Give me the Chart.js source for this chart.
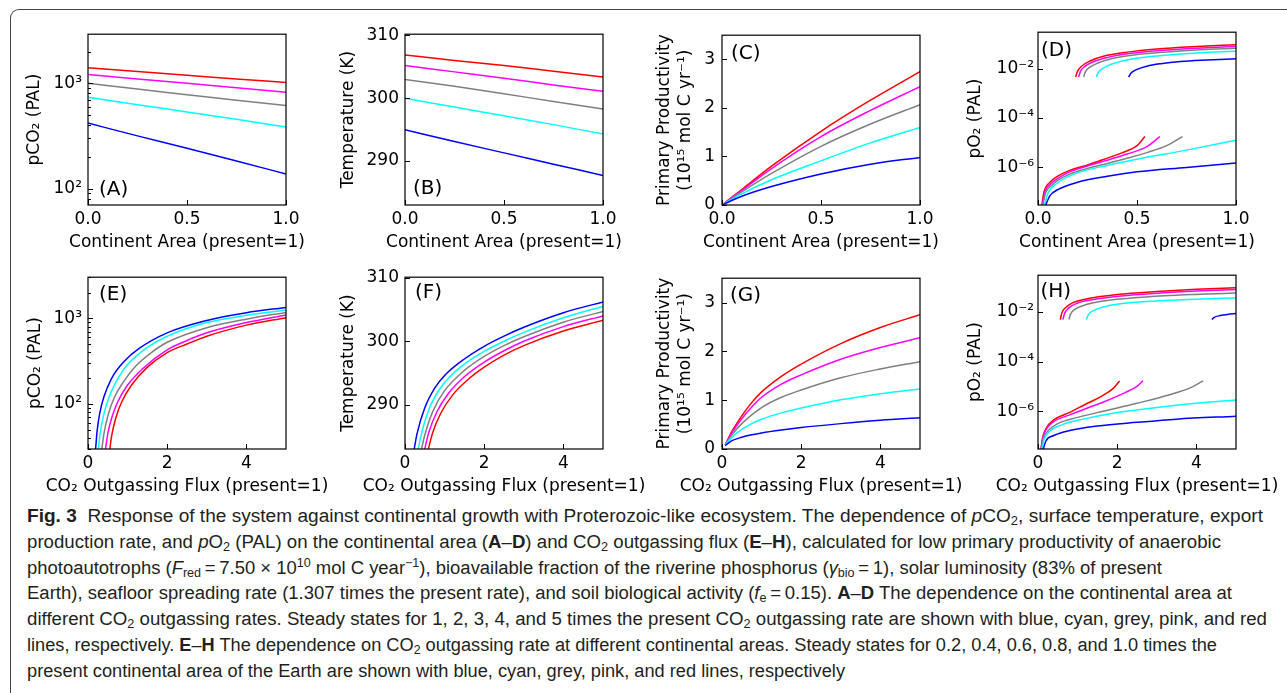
<!DOCTYPE html>
<html>
<head>
<meta charset="utf-8">
<script src="https://cdn.jsdelivr.net/npm/chart.js@4.4.1/dist/chart.umd.min.js"></script>
<style>
  html, body { margin: 0; padding: 0; background: #fff; }
  #page { position: relative; width: 1287px; height: 693px; overflow: hidden; background: #fff; }
  #frame { position: absolute; left: 10px; top: 9px; width: 1400px; height: 800px;
           border-left: 1.3px solid #444; border-top: 1.3px solid #444; border-top-left-radius: 9px; }
  canvas { position: absolute; }
  .cap { position: absolute; left: 27px; white-space: nowrap; font-family: "Liberation Sans Narrow", "Liberation Sans", sans-serif;
         font-size: 18px; line-height: 26px; height: 26px; color: #231f20; transform-origin: 0 50%; }
  .cap sub { font-size: 68%; vertical-align: -0.28em; line-height: 0; }
  .cap sup { font-size: 68%; vertical-align: 0.55em; line-height: 0; }
</style>
</head>
<body>
<div id="page">
  <div id="frame"></div>
  <div class="cap" data-w="1236"><b>Fig. 3</b>&nbsp;&nbsp;Response of the system against continental growth with Proterozoic-like ecosystem. The dependence of <i>p</i>CO<sub>2</sub>, surface temperature, export</div>
  <div class="cap" data-w="1194">production rate, and <i>p</i>O<sub>2</sub> (PAL) on the continental area (<b>A</b>–<b>D</b>) and CO<sub>2</sub> outgassing flux (<b>E</b>–<b>H</b>), calculated for low primary productivity of anaerobic</div>
  <div class="cap" data-w="1135">photoautotrophs (<i>F</i><sub>red</sub>&thinsp;=&thinsp;7.50 × 10<sup>10</sup> mol C year<sup>−1</sup>), bioavailable fraction of the riverine phosphorus (<i>γ</i><sub>bio</sub>&thinsp;=&thinsp;1), solar luminosity (83% of present</div>
  <div class="cap" data-w="1205">Earth), seafloor spreading rate (1.307 times the present rate), and soil biological activity (<i>f</i><sub>e</sub>&thinsp;=&thinsp;0.15). <b>A</b>–<b>D</b> The dependence on the continental area at</div>
  <div class="cap" data-w="1240">different CO<sub>2</sub> outgassing rates. Steady states for 1, 2, 3, 4, and 5 times the present CO<sub>2</sub> outgassing rate are shown with blue, cyan, grey, pink, and red</div>
  <div class="cap" data-w="1190">lines, respectively. <b>E</b>–<b>H</b> The dependence on CO<sub>2</sub> outgassing rate at different continental areas. Steady states for 0.2, 0.4, 0.6, 0.8, and 1.0 times the</div>
  <div class="cap" data-w="818">present continental area of the Earth are shown with blue, cyan, grey, pink, and red lines, respectively</div>
</div>
<script>
// curve colours: blue, cyan, grey, pink, red
const lineColors = ['#0000ff', '#00ffff', '#808080', '#ff00ff', '#ff0000'];

// (A)-(C) against continent area, one curve per outgassing rate (1x..5x)
const areaX = [0, 0.25, 0.5, 0.75, 1.0];
const pco2VsArea = [
  [419, 317, 242, 183, 138],
  [735, 625, 535, 455, 384],
  [1000, 880, 780, 690, 614],
  [1214, 1100, 1000, 905, 823],
  [1404, 1290, 1190, 1100, 1015]
];
const tempVsArea = [
  [295.0, 293.1, 291.3, 289.5, 287.7],
  [300.0, 298.6, 297.2, 295.8, 294.3],
  [303.0, 301.9, 300.7, 299.5, 298.3],
  [305.2, 304.2, 303.2, 302.1, 301.1],
  [306.9, 306.0, 305.2, 304.3, 303.4]
];
const areaXProd = [0, 0.1, 0.25, 0.5, 0.75, 1.0];
const prodVsArea = [
  [0, 0.18, 0.38, 0.64, 0.84, 0.98],
  [0, 0.23, 0.52, 0.91, 1.28, 1.60],
  [0, 0.27, 0.65, 1.21, 1.67, 2.07],
  [0, 0.30, 0.75, 1.41, 1.95, 2.44],
  [0, 0.32, 0.80, 1.52, 2.16, 2.75]
];
const dLowX = [
  [0.035, 0.06, 0.1, 0.2, 0.35, 0.5, 0.75, 1.0],
  [0.03, 0.05, 0.1, 0.2, 0.35, 0.5, 0.75, 1.0],
  [0.022, 0.04, 0.07, 0.1, 0.16, 0.25, 0.35, 0.45, 0.55, 0.65, 0.73],
  [0.02, 0.035, 0.065, 0.1, 0.16, 0.25, 0.35, 0.45, 0.55, 0.615],
  [0.018, 0.03, 0.06, 0.1, 0.16, 0.25, 0.33, 0.42, 0.5, 0.54]
];
const dLowExp = [
  [-7.6, -7.15, -6.9, -6.6, -6.36, -6.18, -6.0, -5.82],
  [-7.6, -7.05, -6.62, -6.22, -5.92, -5.67, -5.3, -4.9],
  [-7.6, -7.0, -6.72, -6.52, -6.27, -6.04, -5.84, -5.63, -5.4, -5.12, -4.75],
  [-7.6, -7.0, -6.66, -6.44, -6.18, -5.94, -5.71, -5.46, -5.16, -4.75],
  [-7.6, -7.0, -6.6, -6.35, -6.12, -5.9, -5.68, -5.42, -5.12, -4.75]
];
const dUpX = [
  [0.458, 0.47, 0.5, 0.55, 0.62, 0.72, 0.85, 1.0],
  [0.295, 0.305, 0.33, 0.37, 0.45, 0.58, 0.72, 0.86, 1.0],
  [0.23, 0.24, 0.26, 0.3, 0.37, 0.5, 0.65, 0.82, 1.0],
  [0.205, 0.215, 0.235, 0.28, 0.35, 0.47, 0.62, 0.8, 1.0],
  [0.19, 0.2, 0.22, 0.26, 0.33, 0.45, 0.6, 0.8, 1.0]
];
const dUpExp = [
  [-2.34, -2.18, -2.03, -1.9, -1.8, -1.71, -1.65, -1.60],
  [-2.34, -2.15, -1.98, -1.82, -1.65, -1.5, -1.41, -1.34, -1.29],
  [-2.34, -2.12, -1.95, -1.78, -1.6, -1.43, -1.32, -1.23, -1.17],
  [-2.34, -2.1, -1.92, -1.72, -1.55, -1.38, -1.26, -1.17, -1.10],
  [-2.34, -2.1, -1.9, -1.7, -1.5, -1.33, -1.2, -1.1, -1.03]
];

// (E)-(H) against CO2 outgassing, one curve per continent area (0.2..1.0)
const eX = [
  [0.18, 0.23, 0.3, 0.4, 0.6, 0.9, 1.3, 2, 3, 4, 5],
  [0.25, 0.3, 0.4, 0.55, 0.8, 1.0, 1.5, 2, 3, 4, 5],
  [0.33, 0.4, 0.5, 0.65, 0.9, 1.2, 1.6, 2, 3, 4, 5],
  [0.42, 0.5, 0.6, 0.75, 1.0, 1.4, 2, 2.5, 3, 4, 5],
  [0.53, 0.6, 0.7, 0.85, 1.1, 1.5, 2, 2.5, 3, 4, 5]
];
const pco2VsFlux = [
  [25, 48, 79, 120, 200, 309, 447, 676, 944, 1161, 1340],
  [25, 43, 76, 126, 214, 288, 457, 617, 891, 1084, 1250],
  [25, 44, 72, 115, 182, 275, 398, 525, 776, 977, 1172],
  [25, 45, 69, 105, 166, 263, 427, 550, 676, 891, 1094],
  [25, 43, 68, 105, 166, 269, 398, 501, 617, 832, 1018]
];
const fX = [
  [0.22, 0.3, 0.5, 0.75, 1.0, 1.5, 2, 2.5, 3, 4, 5],
  [0.32, 0.4, 0.6, 0.85, 1.1, 1.5, 2, 2.5, 3, 4, 5],
  [0.40, 0.5, 0.7, 1.0, 1.5, 2, 2.5, 3, 4, 5],
  [0.48, 0.6, 0.8, 1.1, 1.5, 2, 2.5, 3, 4, 5],
  [0.57, 0.7, 0.9, 1.2, 1.6, 2, 2.5, 3, 4, 5]
];
const tempVsFlux = [
  [282.5, 285.3, 289.5, 292.6, 294.6, 297.2, 299.2, 300.8, 302.2, 304.5, 306.2],
  [282.5, 285.0, 289.2, 292.2, 294.2, 296.4, 298.4, 300.0, 301.4, 303.7, 305.5],
  [282.5, 285.2, 288.9, 292.2, 295.4, 297.6, 299.3, 300.7, 303.0, 304.7],
  [282.5, 285.6, 288.8, 291.8, 294.4, 296.7, 298.5, 300.0, 302.3, 304.0],
  [282.5, 285.6, 288.6, 291.5, 294.0, 295.9, 297.8, 299.3, 301.6, 303.3]
];
const gX = [0.08, 0.25, 0.5, 0.75, 1, 1.5, 2, 3, 4, 5];
const prodVsFlux = [
  [0.07, 0.17, 0.24, 0.29, 0.33, 0.39, 0.44, 0.52, 0.59, 0.64],
  [0.08, 0.24, 0.40, 0.52, 0.61, 0.74, 0.84, 1.01, 1.13, 1.23],
  [0.08, 0.29, 0.52, 0.70, 0.85, 1.06, 1.21, 1.46, 1.64, 1.79],
  [0.08, 0.33, 0.62, 0.86, 1.06, 1.33, 1.52, 1.84, 2.08, 2.28],
  [0.08, 0.36, 0.68, 0.95, 1.17, 1.49, 1.74, 2.16, 2.49, 2.75]
];
const hLowX = [
  [0.12, 0.2, 0.4, 0.8, 1.5, 2.5, 3.5, 5.0],
  [0.09, 0.15, 0.3, 0.6, 1.2, 2.0, 3.0, 4.0, 5.0],
  [0.08, 0.14, 0.25, 0.5, 1.0, 1.7, 2.5, 3.3, 3.9, 4.17],
  [0.07, 0.12, 0.2, 0.4, 0.8, 1.2, 1.7, 2.2, 2.5, 2.65],
  [0.07, 0.12, 0.2, 0.4, 0.8, 1.2, 1.6, 1.9, 2.06]
];
const hLowExp = [
  [-7.6, -7.2, -6.98, -6.78, -6.6, -6.45, -6.32, -6.2],
  [-7.6, -7.15, -6.8, -6.55, -6.3, -6.05, -5.85, -5.68, -5.55],
  [-7.6, -7.1, -6.8, -6.5, -6.25, -5.98, -5.68, -5.35, -5.02, -4.78],
  [-7.6, -7.1, -6.75, -6.42, -6.15, -5.9, -5.6, -5.25, -5.0, -4.78],
  [-7.6, -7.05, -6.7, -6.35, -6.05, -5.72, -5.4, -5.08, -4.78]
];
const hUpX = [
  [4.39, 4.45, 4.6, 4.8, 5.0],
  [1.22, 1.27, 1.4, 1.7, 2.2, 3.0, 4.0, 5.0],
  [0.78, 0.82, 0.93, 1.15, 1.6, 2.3, 3.2, 4.1, 5.0],
  [0.63, 0.67, 0.77, 0.97, 1.4, 2.1, 3.0, 4.0, 5.0],
  [0.565, 0.6, 0.7, 0.9, 1.3, 2.0, 3.0, 4.0, 5.0]
];
const hUpExp = [
  [-2.31, -2.22, -2.15, -2.1, -2.07],
  [-2.31, -2.12, -1.95, -1.78, -1.65, -1.56, -1.49, -1.44],
  [-2.31, -2.1, -1.9, -1.74, -1.57, -1.45, -1.35, -1.29, -1.24],
  [-2.31, -2.07, -1.85, -1.66, -1.5, -1.36, -1.25, -1.16, -1.10],
  [-2.31, -2.05, -1.82, -1.62, -1.45, -1.3, -1.18, -1.09, -1.03]
];

// ticks
const areaTicks = [0, 0.5, 1.0], areaTickLabels = ['0.0', '0.5', '1.0'];
const fluxTicks = [0, 2, 4], fluxTickLabels = ['0', '2', '4'];
const tempTicks = [290, 300, 310], tempTickLabels = ['290', '300', '310'];
const prodTicks = [0, 1, 2, 3], prodTickLabels = ['0', '1', '2', '3'];
const pco2Major = [100, 1000], pco2MajorLabels = ['10²', '10³'];
const pco2MinorA = [80, 90, 200, 300, 400, 500, 600, 700, 800, 900, 2000];
const pco2MinorE = [30, 40, 50, 60, 70, 80, 90, 200, 300, 400, 500, 600, 700, 800, 900, 2000, 3000];
const po2Major = [1e-6, 1e-4, 1e-2], po2MajorLabels = ['10⁻⁶', '10⁻⁴', '10⁻²'];

const FONT = { family: 'DejaVu Sans', size: 17 };
const PW = 198, WY = 90, PR = 56, PT = 14, HX = 52;

function tickList(vals, labels, minors) {
  const t = vals.map((v, i) => ({ value: v, text: labels[i] }));
  (minors || []).forEach(v => t.push({ value: v, text: '', minor: true }));
  return t.sort((a, b) => a.value - b.value);
}
function xy(xs, ys) { return xs.map((x, i) => ({ x: x, y: ys[i] })); }
function pow10(ys) { return ys.map(v => Math.pow(10, v)); }
function curves(xsList, ysList) {
  return ysList.map((ys, i) => ({
    data: xy(Array.isArray(xsList[0]) ? xsList[i] : xsList, ys),
    borderColor: lineColors[i]
  }));
}

// box, inward ticks, panel letter and x-axis title (drawn here so it is not squeezed to the plot width)
const frameAndTicks = {
  id: 'frameAndTicks',
  afterDatasetsDraw(chart) {
    const { ctx, chartArea: a, scales } = chart;
    const p = chart.options.plugins.frameAndTicks;
    ctx.save();
    ctx.strokeStyle = '#000';
    ctx.lineWidth = 1.2;
    ctx.strokeRect(a.left, a.top, a.right - a.left, a.bottom - a.top);
    ctx.beginPath();
    scales.x.ticks.forEach(t => {
      const px = Math.round(scales.x.getPixelForValue(t.value)) + 0.5;
      ctx.moveTo(px, a.bottom); ctx.lineTo(px, a.bottom - (t.minor ? 3 : 5));
    });
    scales.y.ticks.forEach(t => {
      const py = Math.round(scales.y.getPixelForValue(t.value)) + 0.5;
      ctx.moveTo(a.left, py); ctx.lineTo(a.left + (t.minor ? 3 : 5), py);
    });
    ctx.lineWidth = 1;
    ctx.stroke();
    ctx.fillStyle = '#000';
    ctx.textBaseline = 'middle';
    ctx.font = '20px "DejaVu Sans"';
    ctx.fillText(p.label, a.left + p.lx, p.bottom ? a.bottom - p.ly : a.top + p.ly);
    ctx.font = '17px "DejaVu Sans"';
    ctx.textAlign = 'center';
    ctx.fillText(p.xTitle, (a.left + a.right) / 2, a.bottom + 38);
    ctx.restore();
  }
};

function makePanel(p) {
  const cv = document.createElement('canvas');
  cv.width = WY + PW + PR;
  cv.height = PT + p.ph + HX;
  cv.style.left = (p.left - WY) + 'px';
  cv.style.top = (p.top - PT) + 'px';
  document.getElementById('page').appendChild(cv);
  const xTicks = p.xTicks, yTicks = p.yTicks;
  new Chart(cv, {
    type: 'line',
    data: { datasets: p.datasets },
    plugins: [frameAndTicks],
    options: {
      responsive: false, animation: false, devicePixelRatio: 1,
      layout: { padding: { top: PT, right: PR, left: 0, bottom: 0 } },
      elements: { point: { radius: 0 }, line: { borderWidth: 1.5, cubicInterpolationMode: 'monotone', fill: false } },
      plugins: { legend: { display: false }, tooltip: { enabled: false },
                 frameAndTicks: { label: p.label, lx: p.lx, ly: p.ly, bottom: p.bottom, xTitle: p.xTitle } },
      scales: {
        x: {
          type: 'linear', min: p.xMin, max: p.xMax,
          grid: { display: false, drawTicks: false }, border: { display: false },
          afterBuildTicks: s => { s.ticks = xTicks.map(t => Object.assign({}, t)); },
          afterFit: s => { s.height = HX; },
          ticks: { font: FONT, color: '#000', padding: 4, autoSkip: false, maxRotation: 0, minRotation: 0,
                   callback: (v, i, ticks) => ticks[i].text }
        },
        y: {
          type: p.yLog ? 'logarithmic' : 'linear', min: p.yMin, max: p.yMax,
          grid: { display: false, drawTicks: false }, border: { display: false },
          afterBuildTicks: s => { s.ticks = yTicks.map(t => Object.assign({}, t)); },
          afterFit: s => { s.width = WY; },
          ticks: { font: FONT, color: '#000', padding: p.yPad, autoSkip: false,
                   callback: (v, i, ticks) => ticks[i].text },
          title: { display: true, text: p.yTitle, font: FONT, color: '#000',
                   padding: { top: WY + p.yTitleOff - 10.2, bottom: 0 } }
        }
      }
    }
  });
}

const areaXTicks = tickList(areaTicks, areaTickLabels);
const fluxXTicks = tickList(fluxTicks, fluxTickLabels);
const cols = [88, 405, 722, 1038];
const areaTitle = 'Continent Area (present=1)';
const fluxTitle = 'CO₂ Outgassing Flux (present=1)';
const prodTitle = ['Primary Productivity', '(10¹⁵ mol C yr⁻¹)'];

const panels = [
  { label: '(A)', left: cols[0], top: 32, ph: 173, lx: 11, ly: 15, bottom: true,
    xMin: 0, xMax: 1, xTicks: areaXTicks, xTitle: areaTitle,
    yLog: true, yMin: 70, yMax: 2920, yTicks: tickList(pco2Major, pco2MajorLabels, pco2MinorA),
    yTitle: 'pCO₂ (PAL)', yTitleOff: -53, yPad: 6,
    datasets: curves(areaX, pco2VsArea) },
  { label: '(B)', left: cols[1], top: 32, ph: 173, lx: 8, ly: 16, bottom: true,
    xMin: 0, xMax: 1, xTicks: areaXTicks, xTitle: areaTitle,
    yMin: 283, yMax: 310.2, yTicks: tickList(tempTicks, tempTickLabels),
    yTitle: 'Temperature (K)', yTitleOff: -56, yPad: 6,
    datasets: curves(areaX, tempVsArea) },
  { label: '(C)', left: cols[2], top: 32, ph: 173, lx: 9, ly: 19,
    xMin: 0, xMax: 1, xTicks: areaXTicks, xTitle: areaTitle,
    yMin: 0, yMax: 3.5, yTicks: tickList(prodTicks, prodTickLabels),
    yTitle: prodTitle, yTitleOff: -57, yPad: 7,
    datasets: curves(areaXProd, prodVsArea) },
  { label: '(D)', left: cols[3], top: 32, ph: 173, lx: 3, ly: 19,
    xMin: 0, xMax: 1, xTicks: areaXTicks, xTitle: areaTitle,
    yLog: true, yMin: 3.0e-8, yMax: 0.3, yTicks: tickList(po2Major, po2MajorLabels),
    yTitle: 'pO₂ (PAL)', yTitleOff: -62, yPad: 4,
    datasets: curves(dLowX, dLowExp.map(pow10)).concat(curves(dUpX, dUpExp.map(pow10))) },
  { label: '(E)', left: cols[0], top: 275, ph: 174, lx: 11, ly: 17.5,
    xMin: 0, xMax: 5, xTicks: fluxXTicks, xTitle: fluxTitle,
    yLog: true, yMin: 29.7, yMax: 3020, yTicks: tickList(pco2Major, pco2MajorLabels, pco2MinorE),
    yTitle: 'pCO₂ (PAL)', yTitleOff: -52, yPad: 6,
    datasets: curves(eX, pco2VsFlux) },
  { label: '(F)', left: cols[1], top: 275, ph: 174, lx: 10, ly: 16,
    xMin: 0, xMax: 5, xTicks: fluxXTicks, xTitle: fluxTitle,
    yMin: 283, yMax: 310.1, yTicks: tickList(tempTicks, tempTickLabels),
    yTitle: 'Temperature (K)', yTitleOff: -56, yPad: 6,
    datasets: curves(fX, tempVsFlux) },
  { label: '(G)', left: cols[2], top: 275, ph: 174, lx: 8, ly: 17.5,
    xMin: 0, xMax: 5, xTicks: fluxXTicks, xTitle: fluxTitle,
    yMin: 0, yMax: 3.5, yTicks: tickList(prodTicks, prodTickLabels),
    yTitle: prodTitle, yTitleOff: -57, yPad: 7,
    datasets: curves(gX, prodVsFlux) },
  { label: '(H)', left: cols[3], top: 275, ph: 174, lx: 2.5, ly: 16.7,
    xMin: 0, xMax: 5, xTicks: fluxXTicks, xTitle: fluxTitle,
    yLog: true, yMin: 3.0e-8, yMax: 0.3, yTicks: tickList(po2Major, po2MajorLabels),
    yTitle: 'pO₂ (PAL)', yTitleOff: -62, yPad: 4,
    datasets: curves(hLowX, hLowExp.map(pow10)).concat(curves(hUpX, hUpExp.map(pow10))) }
];
panels.forEach(makePanel);

// caption lines: fit each one to the width it has in the figure
const capCenters = [516, 541.8, 567.6, 593.4, 619.2, 645, 670.8];
document.querySelectorAll('.cap').forEach((el, i) => {
  el.style.top = (capCenters[i] - 13) + 'px';
  const w = el.getBoundingClientRect().width;
  el.style.transform = 'scaleX(' + (Number(el.dataset.w) / w) + ')';
});
</script>
</body>
</html>
